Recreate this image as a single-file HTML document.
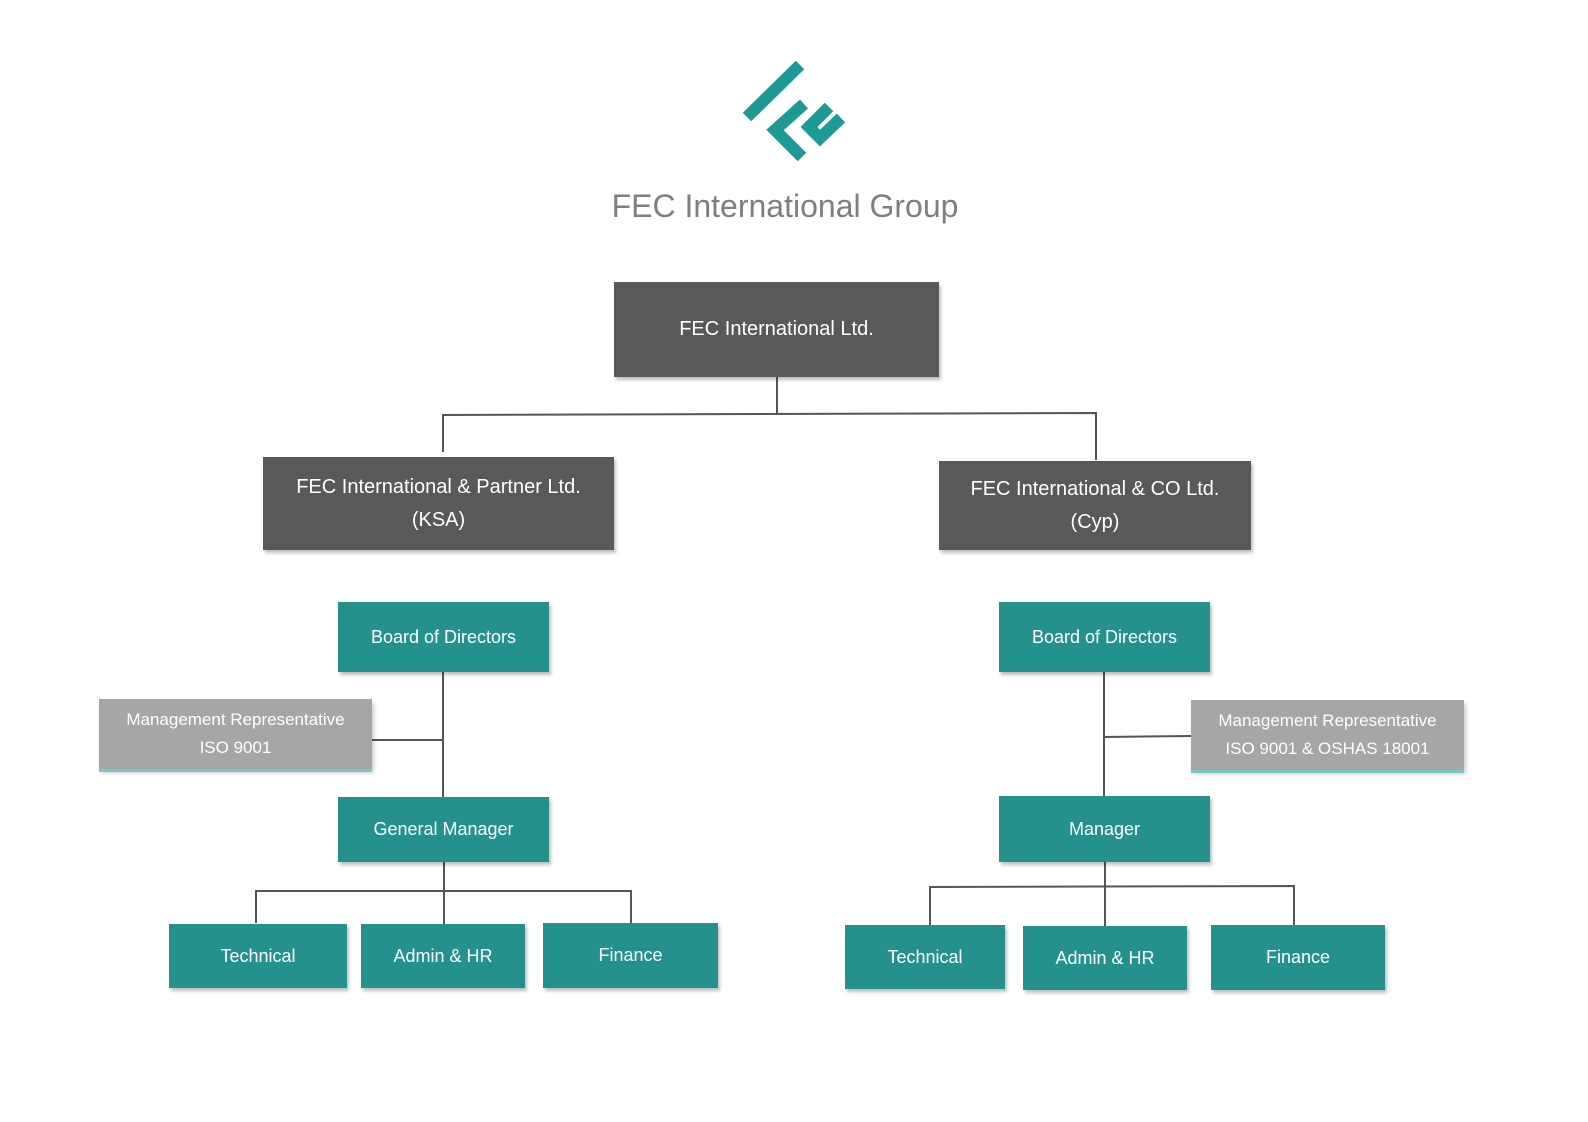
<!DOCTYPE html>
<html><head><style>
body{margin:0;width:1588px;height:1122px;background:#fff;position:relative;overflow:hidden;font-family:"Liberation Sans",sans-serif}
.b{position:absolute;display:flex;align-items:center;justify-content:center;text-align:center;color:#fff;box-shadow:2px 3px 3px rgba(0,0,0,.25)}
.d{background:#595959;font-size:20px;line-height:33px}
.t{background:#24918d;font-size:18px}
.g{background:#a6a6a6;font-size:17px;line-height:28px;box-shadow:0 3px 0 #7cc6c2,2px 4px 4px rgba(0,0,0,.2)}
.title{position:absolute;left:0;width:1570px;top:188px;text-align:center;font-size:32px;color:#7f7f7f}
svg{position:absolute;left:0;top:0}
</style></head><body>
<svg width="1588" height="1122">
<g stroke="#1d9a96" stroke-width="12" fill="none" stroke-linecap="butt">
<line x1="800" y1="65" x2="747" y2="117"/>
<polyline points="804,104 775,130 802,157"/>
<polyline points="829,107 809,127 820,138 841,118"/>
</g>
<g stroke="#555" stroke-width="2" fill="none">
<line x1="777" y1="377" x2="777" y2="413"/>
<polyline points="443,452 443,415 1096,413 1096,460"/>
<line x1="443" y1="672" x2="443" y2="797"/>
<line x1="372" y1="740" x2="443" y2="740"/>
<line x1="444" y1="862" x2="444" y2="924"/>
<polyline points="256,923 256,891 631,891 631,923"/>
<line x1="1104" y1="672" x2="1104" y2="796"/>
<line x1="1104" y1="737" x2="1191" y2="736"/>
<line x1="1105" y1="862" x2="1105" y2="926"/>
<polyline points="930,925 930,887 1294,886 1294,925"/>
</g>
</svg>
<div class="title">FEC International Group</div>
<div class="b d" style="left:614px;top:282px;width:325px;height:95px">FEC International Ltd.</div>
<div class="b d" style="left:263px;top:457px;width:351px;height:93px">FEC International &amp; Partner Ltd.<br>(KSA)</div>
<div class="b d" style="left:939px;top:461px;width:312px;height:89px">FEC International &amp; CO Ltd.<br>(Cyp)</div>
<div class="b t" style="left:338px;top:602px;width:211px;height:70px">Board of Directors</div>
<div class="b g" style="left:99px;top:699px;width:273px;height:70px">Management Representative<br>ISO 9001</div>
<div class="b t" style="left:338px;top:797px;width:211px;height:65px">General Manager</div>
<div class="b t" style="left:169px;top:924px;width:178px;height:64px">Technical</div>
<div class="b t" style="left:361px;top:924px;width:164px;height:64px">Admin &amp; HR</div>
<div class="b t" style="left:543px;top:923px;width:175px;height:65px">Finance</div>
<div class="b t" style="left:999px;top:602px;width:211px;height:70px">Board of Directors</div>
<div class="b g" style="left:1191px;top:700px;width:273px;height:70px">Management Representative<br>ISO 9001 &amp; OSHAS 18001</div>
<div class="b t" style="left:999px;top:796px;width:211px;height:66px">Manager</div>
<div class="b t" style="left:845px;top:925px;width:160px;height:64px">Technical</div>
<div class="b t" style="left:1023px;top:926px;width:164px;height:64px">Admin &amp; HR</div>
<div class="b t" style="left:1211px;top:925px;width:174px;height:65px">Finance</div>
</body></html>
